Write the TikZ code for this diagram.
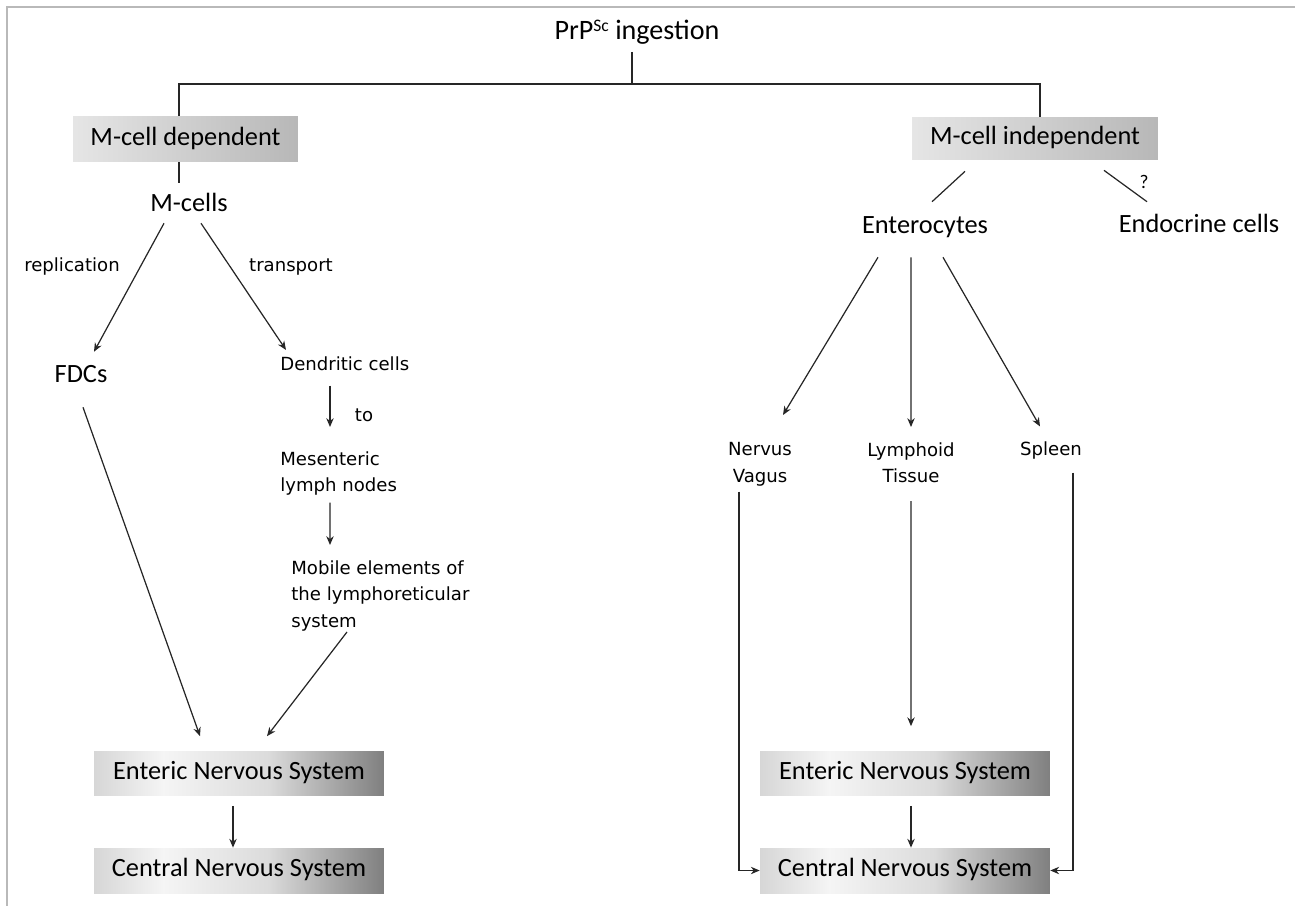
\documentclass[tikz,border=0pt]{standalone}
\usepackage{fontspec}
\setmainfont{Carlito}
\newfontfamily\notefont{DejaVu Sans}
\usepackage{xcolor}
\usepackage{tikz}
\usetikzlibrary{arrows.meta,positioning}
\pgfdeclarehorizontalshading{nerveshade}{100bp}{color(0bp)=(black!16); color(25bp)=(black!16); color(37bp)=(black!4); color(55bp)=(black!14); color(75bp)=(black!50); color(100bp)=(black!50)}

\begin{document}
\begin{tikzpicture}[
    x=0.02cm, y=-0.02cm,
    lbl/.style={font=\fontsize{15}{18}\selectfont, inner sep=0pt, text height=10pt, text depth=3pt},
    note/.style={font=\notefont\fontsize{10.3}{15.3}\selectfont, inner sep=0pt, text height=8pt, text depth=2.5pt},
    notelines/.style={font=\notefont\fontsize{10.3}{15.3}\selectfont, inner sep=0pt},
    routebox/.style={lbl, minimum height=0.88cm, left color=black!10, right color=black!28},
    nervebox/.style={lbl, minimum width=5.8cm, minimum height=0.88cm, shading=nerveshade},
    link/.style={draw=black!85, line width=0.7pt},
    arrow/.style={link, -{Stealth[length=5pt, width=4.2pt, inset=1.6pt]}}
  ]
    \useasboundingbox (0,0) rectangle (1295,906);
    \draw[gray!55, line width=1.2pt] (7,906) -- (7,7) -- (1295,7);

    \node[lbl, font=\fontsize{16}{19}\selectfont] (ingest) at (637,33) {PrP\raisebox{0.55ex}{\fontsize{10}{10}\selectfont Sc} ingestion};
    \coordinate (split) at (632,84);
    \coordinate (jl) at (179,84);
    \coordinate (jr) at (1040,84);
    \node[routebox, minimum width=4.5cm, minimum height=0.92cm] (dep) at (185.5,139) {M-cell dependent};
    \node[routebox, minimum width=4.92cm, minimum height=0.86cm] (indep) at (1035,138.5) {M-cell independent};

    \node[lbl] (mcells) at (189,205) {M-cells};
    \node[note] (repl) at (72,267) {replication};
    \node[note] (transp) at (291,267) {transport};
    \node[lbl] (fdc) at (81,376) {FDCs};
    \node[note, anchor=west] (dend) at (280,366) {Dendritic cells};
    \node[note] (to) at (364,417) {to};
    \node[notelines, anchor=north west, align=left] (mesen) at (280,451) {Mesenteric\\lymph nodes};
    \node[notelines, anchor=north west, align=left] (mobile) at (291,560) {Mobile elements of\\the lymphoreticular\\system};

    \node[lbl] (entero) at (925,227) {Enterocytes};
    \node[lbl] (endo) at (1199,226) {Endocrine cells};
    \node[lbl, font=\fontsize{11}{13}\selectfont] (query) at (1144,182) {?};
    \node[notelines, anchor=north, align=center] (vagus) at (760,442) {Nervus\\Vagus};
    \node[notelines, anchor=north, align=center] (lymph) at (911,442) {Lymphoid\\Tissue};
    \node[note] (spleen) at (1051,451) {Spleen};

    \node[nervebox] (ens1) at (239,773.5) {Enteric Nervous System};
    \node[nervebox, minimum height=0.9cm] (cns1) at (239,870.5) {Central Nervous System};
    \node[nervebox] (ens2) at (905,773.5) {Enteric Nervous System};
    \node[nervebox, minimum height=0.9cm] (cns2) at (905,870.5) {Central Nervous System};

    \draw[link, shorten <=4pt] (ingest.south -| split) -- (split);
    \draw[link] (dep.north -| jl) -- (jl) -- (jr) -- (indep.north -| jr);
    \draw[link, shorten >=6pt] (dep.south -| jl) -- (mcells.north -| jl);
    \draw[link] ([xshift=-1.4cm, yshift=-0.22cm]indep.south) -- ([xshift=0.14cm, yshift=0.27cm]entero.north);
    \draw[link] ([xshift=1.38cm, yshift=-0.2cm]indep.south) -- ([xshift=-1.04cm, yshift=0.25cm]endo.north);

    \draw[arrow] ([xshift=-0.5cm, yshift=-0.13cm]mcells.south) -- ([xshift=0.26cm, yshift=0.25cm]fdc.north);
    \draw[arrow] ([xshift=0.24cm, yshift=-0.13cm]mcells.south) -- ([xshift=0.12cm, yshift=0.13cm]dend.north west);
    \draw[arrow] ([xshift=1cm, yshift=-0.2cm]dend.south west) -- ([xshift=1cm, yshift=0.48cm]mesen.north west);
    \draw[arrow] ([xshift=1cm, yshift=-0.13cm]mesen.south west) -- ([xshift=0.78cm, yshift=0.3cm]mobile.north west);
    \draw[arrow] ([xshift=0.04cm, yshift=-0.39cm]fdc.south) -- ([xshift=-0.78cm, yshift=0.3cm]ens1.north);
    \draw[arrow] ([xshift=1.12cm]mobile.south west) -- ([xshift=0.56cm, yshift=0.3cm]ens1.north);
    \draw[arrow] ([xshift=-0.12cm, yshift=-0.2cm]ens1.south) -- ([xshift=-0.12cm]cns1.north);

    \draw[arrow] ([xshift=-0.94cm, yshift=-0.37cm]entero.south) -- ([xshift=0.46cm, yshift=0.54cm]vagus.north);
    \draw[arrow] ([xshift=-0.28cm, yshift=-0.37cm]entero.south) -- ([yshift=0.3cm]lymph.north);
    \draw[arrow] ([xshift=0.36cm, yshift=-0.37cm]entero.south) -- ([xshift=-0.22cm, yshift=0.3cm]spleen.north);
    \draw[arrow] ([yshift=-0.35cm]lymph.south) -- ([xshift=0.12cm, yshift=0.5cm]ens2.north);
    \draw[arrow] ([xshift=0.12cm, yshift=-0.2cm]ens2.south) -- ([xshift=0.12cm]cns2.north);
    \draw[arrow] ([xshift=-0.42cm, yshift=-0.1cm]vagus.south) |- (cns2.west);
    \draw[arrow] ([xshift=0.44cm, yshift=-0.24cm]spleen.south) |- (cns2.east);
  \end{tikzpicture}
\end{document}
